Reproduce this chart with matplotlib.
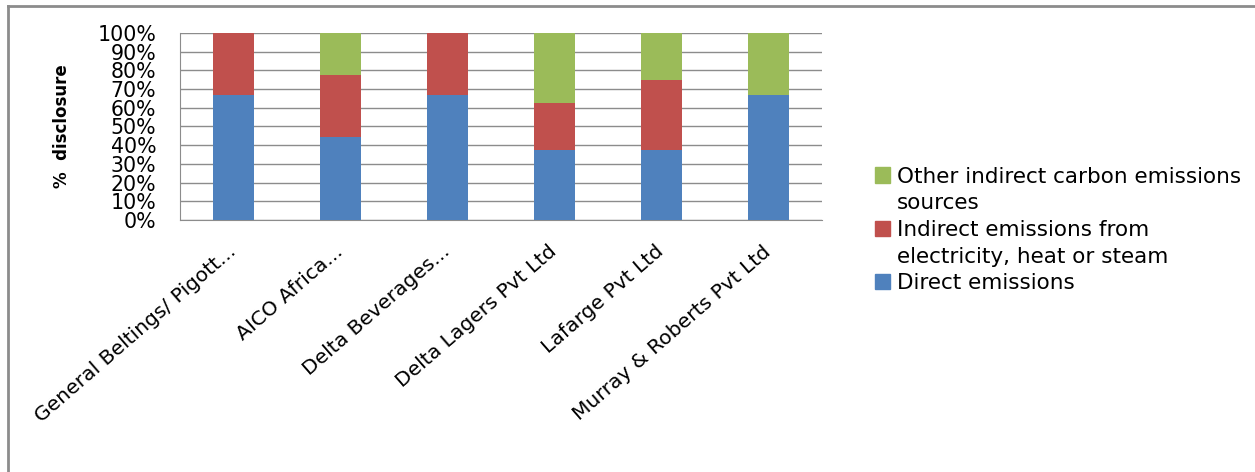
import numpy as np
import matplotlib.pyplot as plt
from matplotlib.lines import Line2D
from matplotlib.patches import Patch
from matplotlib.ticker import PercentFormatter

# Data (% of disclosure items)
companies = ['General Beltings/ Pigott...', 'AICO Africa...', 'Delta Beverages...',
             'Delta Lagers Pvt Ltd', 'Lafarge Pvt Ltd', 'Murray & Roberts Pvt Ltd']
direct = [66.7, 44.4, 66.7, 37.5, 37.5, 66.7]
indirect_elec = [33.3, 33.3, 33.3, 25.0, 37.5, 0.0]
other_indirect = [0.0, 22.2, 0.0, 37.5, 25.0, 33.3]

# legend labels, wrapped as in the original (first line, continuation)
leg_other = ['Other indirect carbon emissions', 'sources']
leg_indirect = ['Indirect emissions from', 'electricity, heat or steam']
leg_direct = ['Direct emissions']
colors = ['#4F81BD', '#C0504D', '#9BBB59']

plt.rcParams['font.family'] = ['DejaVu Sans']

fig = plt.figure(figsize=(12.55, 4.72), dpi=100)
ax = fig.add_axes([0.1434, 0.534, 0.5116, 0.396])

x = np.arange(len(companies))
w = 0.39
b1 = ax.bar(x, direct, w, color=colors[0], zorder=3)
b2 = ax.bar(x, indirect_elec, w, bottom=direct, color=colors[1], zorder=3)
bottom3 = np.array(direct) + np.array(indirect_elec)
b3 = ax.bar(x, other_indirect, w, bottom=bottom3, color=colors[2], zorder=3)

ax.set_xlim(-0.5, len(companies) - 0.5)
ax.set_ylim(0, 100)
ax.set_yticks(np.arange(0, 101, 10))
ax.yaxis.set_major_formatter(PercentFormatter(decimals=0))
ax.grid(axis='y', color='#8c8c8c', linewidth=1, zorder=0)
ax.set_axisbelow(True)
for s in ['top', 'right']:
    ax.spines[s].set_visible(False)
for s in ['left', 'bottom']:
    ax.spines[s].set_color('#8c8c8c')
ax.tick_params(length=0)
ax.tick_params(axis='y', labelsize=14.8, pad=17)

ax.set_xticks(x)
ax.set_xticklabels(companies, rotation=41, ha='right', va='center',
                   rotation_mode='anchor', fontsize=14.6)
ax.tick_params(axis='x', pad=21)
ax.set_ylabel('%  disclosure', fontsize=12, fontweight='bold', labelpad=19)

# legend: one row per text line, colour box only on the first line of each entry
blank = Patch(facecolor='none', edgecolor='none')
handles = [Patch(color=colors[2]), blank, Patch(color=colors[1]), blank, Patch(color=colors[0])]
texts = leg_other + leg_indirect + leg_direct
fig.legend(handles, texts, loc='center left', bbox_to_anchor=(0.697, 0.513),
           frameon=False, fontsize=15.5, handlelength=0.7, handleheight=0.7,
           handletextpad=0.33, labelspacing=0.31, borderaxespad=0, borderpad=0)

# outer chart border (only top and left visible in crop)
fig.add_artist(Line2D([0.0066, 0.0066], [0, 0.988], color='#8c8c8c', lw=2))
fig.add_artist(Line2D([0.0066, 1.0], [0.988, 0.988], color='#8c8c8c', lw=2))

fig.savefig('out.png', dpi=100)
